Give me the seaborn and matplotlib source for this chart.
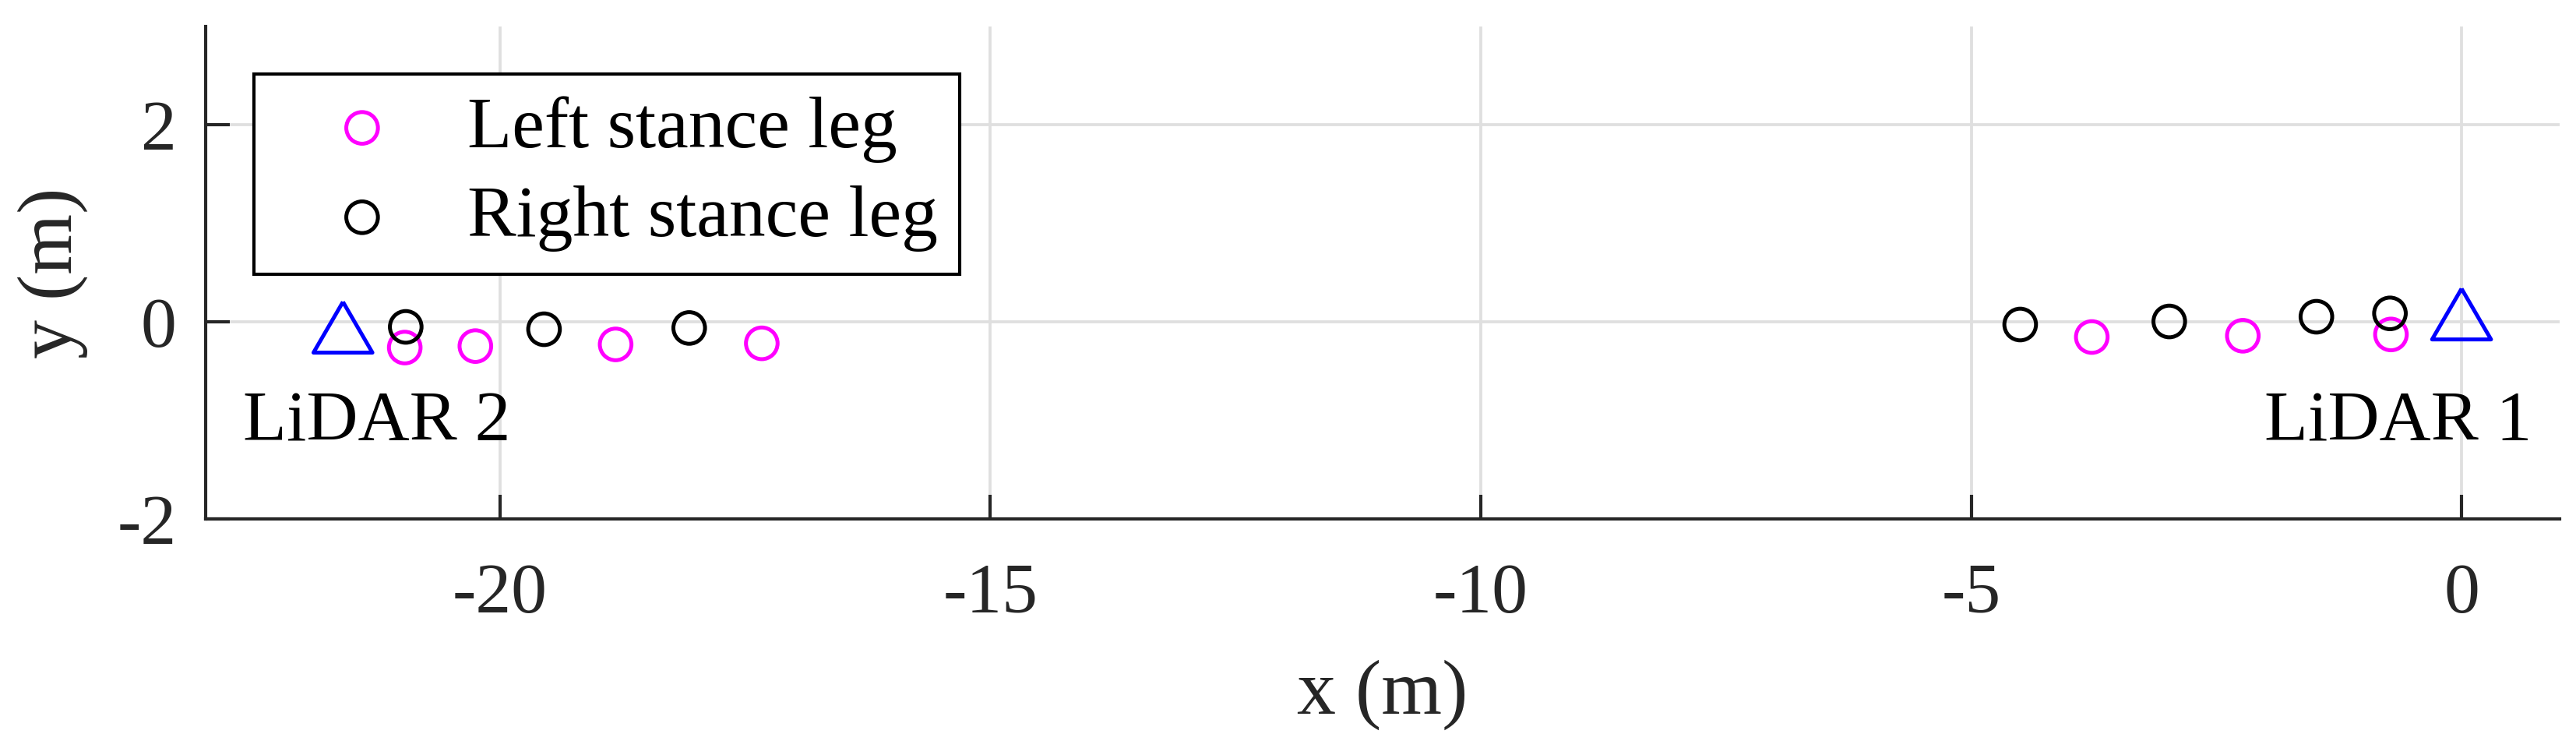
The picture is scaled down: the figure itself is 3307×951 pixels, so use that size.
import numpy as np
import pandas as pd
import matplotlib
matplotlib.use("Agg")
import matplotlib.pyplot as plt
import seaborn as sns

# --- data ---
left_x = [-20.97, -20.25, -18.82, -17.33, -3.77, -2.23, -0.72]
left_y = [-0.26, -0.245, -0.228, -0.217, -0.153, -0.14, -0.127]
right_x = [-20.96, -19.55, -18.07, -4.50, -2.98, -1.48, -0.73]
right_y = [-0.05, -0.074, -0.061, -0.026, 0.005, 0.053, 0.087]
lidar_x = [0.0, -21.6]
lidar_y = [0.08, -0.054]
lidar_names = ["LiDAR 1", "LiDAR 2"]
x_ticks = [-20, -15, -10, -5, 0]
y_ticks = [-2, 0, 2]

sns.set_style("whitegrid")
plt.rcParams["font.family"] = ["Liberation Serif", "DejaVu Serif"]
plt.rcParams["axes.unicode_minus"] = False

fs = 22
fig = plt.figure(figsize=(3307 / 300, 951 / 300), dpi=300)
ax = fig.add_axes([264 / 3307, 1 - 666 / 951, (3286 - 264) / 3307, (666 - 34) / 951])

sns.scatterplot(x=left_x, y=left_y, marker="o", s=95, facecolor="none",
                edgecolor="#ff00ff", linewidth=1.2, label="Left stance leg", ax=ax, zorder=3)
sns.scatterplot(x=right_x, y=right_y, marker="o", s=95, facecolor="none",
                edgecolor="black", linewidth=1.2, label="Right stance leg", ax=ax, zorder=3)

# MATLAB-style triangle: a bit wider than tall
tri = [(0, 0.86), (-1, -0.86), (1, -0.86), (0, 0.86)]
sns.scatterplot(x=lidar_x, y=lidar_y, marker=tri, s=330, facecolor="none",
                edgecolor="#0000ff", linewidth=1.2, ax=ax, zorder=3, legend=False)

ax.text(-22.62, -1.03, lidar_names[1], fontsize=fs, ha="left", va="center", color="black")
ax.text(0.72, -1.03, lidar_names[0], fontsize=fs, ha="right", va="center", color="black")

ax.set_xlim(-23, 1)
ax.set_ylim(-2, 3)
ax.set_xticks(x_ticks)
ax.set_yticks(y_ticks)
ax.set_xticklabels([str(t) for t in x_ticks])
ax.set_yticklabels([str(t) for t in y_ticks])
ax.set_xlabel("x (m)", fontsize=24, color="#262626", labelpad=10)
ax.set_ylabel("y (m)", fontsize=24, color="#262626", labelpad=9)

ax.grid(True, color="#dfdfdf", linewidth=0.9)
for side in ["top", "right"]:
    ax.spines[side].set_visible(False)
for side in ["left", "bottom"]:
    ax.spines[side].set_color("#262626")
    ax.spines[side].set_linewidth(1.0)
ax.tick_params(direction="in", length=7.5, width=1.0, colors="#262626",
               labelsize=fs, left=True, bottom=True)
ax.tick_params(axis="x", pad=13.5)
ax.tick_params(axis="y", pad=9)

leg = ax.legend(loc="upper left", bbox_to_anchor=(0.0204, 0.9035), borderaxespad=0,
                fontsize=22.5, frameon=True, fancybox=False, edgecolor="black",
                handletextpad=0.26, borderpad=0.3, labelspacing=0.31, handlelength=2.37)
leg.get_frame().set_linewidth(1.0)
leg.get_frame().set_alpha(1)
for t in leg.get_texts():
    t.set_color("black")

fig.savefig("out.png", dpi=300)
